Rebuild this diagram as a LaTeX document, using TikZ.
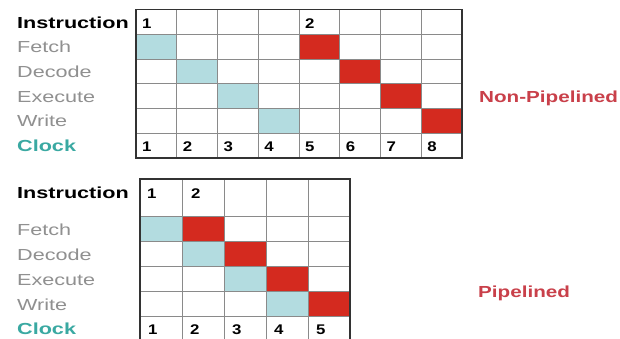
\documentclass[tikz,border=0pt]{standalone}
\usepackage{fontspec}
\newfontfamily\labfont[FakeStretch=1.35]{Liberation Sans}
\newfontfamily\numfont[FakeStretch=1.2]{Liberation Sans}
\newfontfamily\titfont[FakeStretch=1.29]{Liberation Sans}
\definecolor{cellblue}{HTML}{B3DCE0}
\definecolor{cellred}{HTML}{D42A1F}
\definecolor{labgray}{HTML}{909090}
\definecolor{clockteal}{HTML}{3AA9A2}
\definecolor{titlered}{HTML}{C9404A}
\definecolor{gridgray}{HTML}{8A8A8A}
\definecolor{framedark}{HTML}{333333}
\tikzset{
  lab/.style={font=\labfont\fontsize{16}{16}\selectfont, inner sep=0pt, anchor=base west, text=labgray},
  labhead/.style={lab, font=\labfont\bfseries\fontsize{16}{16}\selectfont, text=black},
  labclock/.style={lab, font=\labfont\bfseries\fontsize{16}{16}\selectfont, text=clockteal},
  num/.style={font=\numfont\bfseries\fontsize{14}{14}\selectfont, inner sep=0pt, anchor=base west, text=black},
  title/.style={font=\titfont\bfseries\fontsize{16}{16}\selectfont, inner sep=0pt, anchor=base west, text=titlered},
  inner/.style={draw=gridgray, line width=0.7pt},
  frame/.style={draw=framedark, line width=1.5pt},
}
\begin{document}
\begin{tikzpicture}[x=1pt,y=-1pt]
\useasboundingbox (0,0) rectangle (620,338);
\fill[white] (0,0) rectangle (620,338);

% ---------- Non-pipelined grid ----------
\def\TX{136}\def\TW{40.75}\def\TY{9.5}\def\TH{24.75}
\foreach \i in {0,...,3} {
  \fill[cellblue] ({\TX+\i*\TW},{\TY+(\i+1)*\TH}) rectangle ++(\TW,\TH);
  \fill[cellred] ({\TX+(\i+4)*\TW},{\TY+(\i+1)*\TH}) rectangle ++(\TW,\TH);
}
\foreach \i in {1,...,7} \draw[inner] ({\TX+\i*\TW},\TY) -- ({\TX+\i*\TW},{\TY+6*\TH});
\foreach \j in {1,...,5} \draw[inner] (\TX,{\TY+\j*\TH}) -- ({\TX+8*\TW},{\TY+\j*\TH});
\draw[frame] (\TX,\TY) rectangle ({\TX+8*\TW},{\TY+6*\TH});

\node[labhead] (tins) at (17,28) {Instruction};
\node[lab] (tfet) at (17,52.5) {Fetch};
\node[lab] (tdec) at (17,77.3) {Decode};
\node[lab] (texe) at (17,102) {Execute};
\node[lab] (twri) at (17,126.8) {Write};
\node[labclock] (tclk) at (17,151.5) {Clock};

\node[num] (ti1) at ({\TX+6},28) {1};
\node[num] (ti2) at ({\TX+4*\TW+6},28) {2};
\foreach \k in {1,...,8}
  \node[num] (tc\k) at ({\TX+(\k-1)*\TW+6},151.5) {\k};

\node[title] (tnp) at (479,102) {Non-Pipelined};

% ---------- Pipelined grid ----------
\def\BX{140}\def\BW{42}\def\BY{179}\def\BF{216.5}\def\BH{25}
\foreach \i in {0,...,3} {
  \fill[cellblue] ({\BX+\i*\BW},{\BF+\i*\BH}) rectangle ++(\BW,\BH);
  \fill[cellred] ({\BX+(\i+1)*\BW},{\BF+\i*\BH}) rectangle ++(\BW,\BH);
}
\foreach \i in {1,...,4} \draw[inner] ({\BX+\i*\BW},\BY) -- ({\BX+\i*\BW},{\BF+5*\BH});
\foreach \j in {0,...,4} \draw[inner] (\BX,{\BF+\j*\BH}) -- ({\BX+5*\BW},{\BF+\j*\BH});
\draw[frame] (\BX,\BY) rectangle ({\BX+5*\BW},{\BF+5*\BH});

\node[labhead] (bins) at (17,198) {Instruction};
\node[lab] (bfet) at (17,235.5) {Fetch};
\node[lab] (bdec) at (17,260.5) {Decode};
\node[lab] (bexe) at (17,285.5) {Execute};
\node[lab] (bwri) at (17,310.5) {Write};
\node[labclock] (bclk) at (17,334) {Clock};

\node[num] (bi1) at ({\BX+7},198) {1};
\node[num] (bi2) at ({\BX+\BW+9},198) {2};
\foreach \k in {1,...,5}
  \node[num] (bc\k) at ({\BX+(\k-1)*\BW+8},334) {\k};

\node[title] (bp) at (478,297) {Pipelined};
\end{tikzpicture}
\end{document}
